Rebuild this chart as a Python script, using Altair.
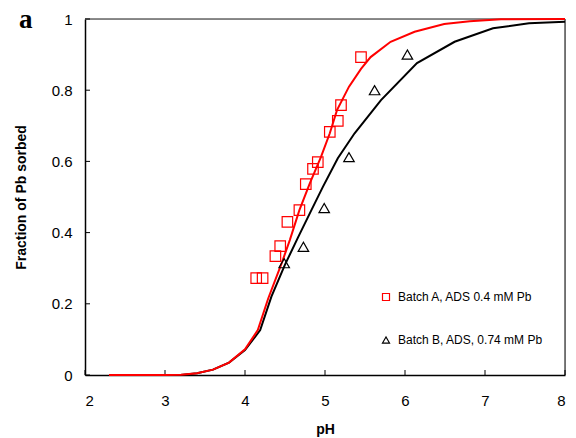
import altair as alt
import pandas as pd

# ---- data ----
red_curve_ph = [2.3, 3.0, 3.2, 3.4, 3.6, 3.8, 4.0, 4.16, 4.29, 4.46, 4.56, 4.68, 4.81, 4.95, 5.06, 5.15, 5.3, 5.45, 5.57, 5.82, 6.12, 6.49, 6.81, 7.2, 8.0]
red_curve_f = [0.0, 0.0, 0.001, 0.005, 0.015, 0.035, 0.072, 0.126, 0.215, 0.315, 0.379, 0.463, 0.538, 0.613, 0.679, 0.744, 0.81, 0.86, 0.893, 0.936, 0.964, 0.986, 0.994, 0.999, 1.0]

black_curve_ph = [2.3, 3.2, 3.4, 3.6, 3.8, 4.0, 4.19, 4.33, 4.5, 4.66, 4.83, 4.975, 5.16, 5.37, 5.7, 6.15, 6.62, 7.1, 7.55, 8.0]
black_curve_f = [0.0, 0.0, 0.005, 0.015, 0.035, 0.07, 0.126, 0.22, 0.31, 0.385, 0.463, 0.529, 0.609, 0.679, 0.772, 0.876, 0.936, 0.974, 0.988, 0.992]

batch_a_ph = [4.14, 4.22, 4.38, 4.44, 4.53, 4.68, 4.76, 4.85, 4.91, 5.06, 5.16, 5.20, 5.45]
batch_a_f = [0.272, 0.272, 0.334, 0.362, 0.43, 0.463, 0.536, 0.579, 0.598, 0.683, 0.714, 0.758, 0.893]

batch_b_ph = [4.49, 4.73, 4.99, 5.30, 5.62, 6.03]
batch_b_f = [0.314, 0.36, 0.469, 0.612, 0.80, 0.90]

series_names = ["Batch A, ADS 0.4 mM Pb", "Batch B, ADS, 0.74 mM Pb"]
series_colors = ["#ff0000", "#000000"]
series_shapes = ["square", "triangle-up"]

x_ticks = [2, 3, 4, 5, 6, 7, 8]
y_ticks = [0, 0.2, 0.4, 0.6, 0.8, 1.0]

FONT = "Liberation Sans"
W, H = 480, 356

black_df = pd.DataFrame({"pH": black_curve_ph, "f": black_curve_f})
red_df = pd.DataFrame({"pH": red_curve_ph, "f": red_curve_f})
points = pd.concat([
    pd.DataFrame({"pH": batch_a_ph, "f": batch_a_f, "series": series_names[0]}),
    pd.DataFrame({"pH": batch_b_ph, "f": batch_b_f, "series": series_names[1]}),
])

xs = alt.Scale(domain=[2, 8], nice=False, zero=False)
ys = alt.Scale(domain=[0, 1], nice=False)

x_axis = alt.Axis(values=x_ticks, format="d", ticks=False, grid=False, domainColor="black",
                  domainWidth=1.5, labelFont=FONT, labelFontSize=15, labelColor="black",
                  labelPadding=18, title="pH", titleFont=FONT, titleFontSize=14,
                  titleFontWeight="bold", titleColor="black", titleBaseline="alphabetic",
                  titleY=58)
y_axis = alt.Axis(values=y_ticks, format=".1~f", ticks=False, grid=False, domainColor="black",
                  domainWidth=1.5, labelFont=FONT, labelFontSize=15, labelColor="black",
                  labelPadding=13, title="Fraction of Pb sorbed", titleFont=FONT,
                  titleFontSize=14, titleFontWeight="bold", titleColor="black",
                  titleBaseline="alphabetic", titleX=-60, titleY=H / 2)

black_line = alt.Chart(black_df).mark_line(strokeWidth=2, color="black").encode(
    x=alt.X("pH:Q", scale=xs, axis=x_axis),
    y=alt.Y("f:Q", scale=ys, axis=y_axis),
)
red_line = alt.Chart(red_df).mark_line(strokeWidth=2, color="#ff0000").encode(
    x=alt.X("pH:Q", scale=xs),
    y=alt.Y("f:Q", scale=ys),
)

pts = alt.Chart(points).mark_point(filled=False, size=110, strokeWidth=1.2, opacity=1).encode(
    x=alt.X("pH:Q", scale=xs),
    y=alt.Y("f:Q", scale=ys),
    color=alt.Color("series:N", scale=alt.Scale(domain=series_names, range=series_colors),
                    legend=alt.Legend(title=None, orient="none", legendX=295, legendY=272,
                                      labelFont=FONT, labelFontSize=12, labelColor="black",
                                      symbolSize=49, symbolStrokeWidth=1.2, rowPadding=31,
                                      labelOffset=6, padding=0)),
    shape=alt.Shape("series:N", scale=alt.Scale(domain=series_names, range=series_shapes)),
)

xt = pd.DataFrame({"t": x_ticks})
yt = pd.DataFrame({"t": y_ticks})
x_tick_marks = alt.Chart(xt).mark_rule(color="black", strokeWidth=1).encode(
    x=alt.X("t:Q", scale=xs), y=alt.value(H), y2=alt.value(H - 5))
y_tick_marks = alt.Chart(yt).mark_rule(color="black", strokeWidth=1).encode(
    y=alt.Y("t:Q", scale=ys), x=alt.value(0), x2=alt.value(5))

top_border = alt.Chart(pd.DataFrame({"v": [1.0]})).mark_rule(color="#666666", strokeWidth=1.5).encode(
    y=alt.Y("v:Q", scale=ys))
right_border = alt.Chart(pd.DataFrame({"v": [8.0]})).mark_rule(color="black", strokeWidth=1).encode(
    x=alt.X("v:Q", scale=xs))

panel_label = alt.Chart(pd.DataFrame({"s": ["a"]})).mark_text(
    font="Liberation Serif", fontSize=27, fontWeight="bold", align="left",
    baseline="alphabetic", color="black").encode(
    text="s:N", x=alt.value(-66), y=alt.value(9))

chart = alt.layer(
    top_border, right_border, x_tick_marks, y_tick_marks, black_line, red_line, pts, panel_label
).properties(
    width=W, height=H,
    autosize=alt.AutoSizeParams(type="none"),
    padding={"left": 77, "top": 11, "right": 3, "bottom": 62},
).configure_view(stroke=None).configure(background="white")

chart.save("out.html", embed_options={"renderer": "svg", "actions": False})
